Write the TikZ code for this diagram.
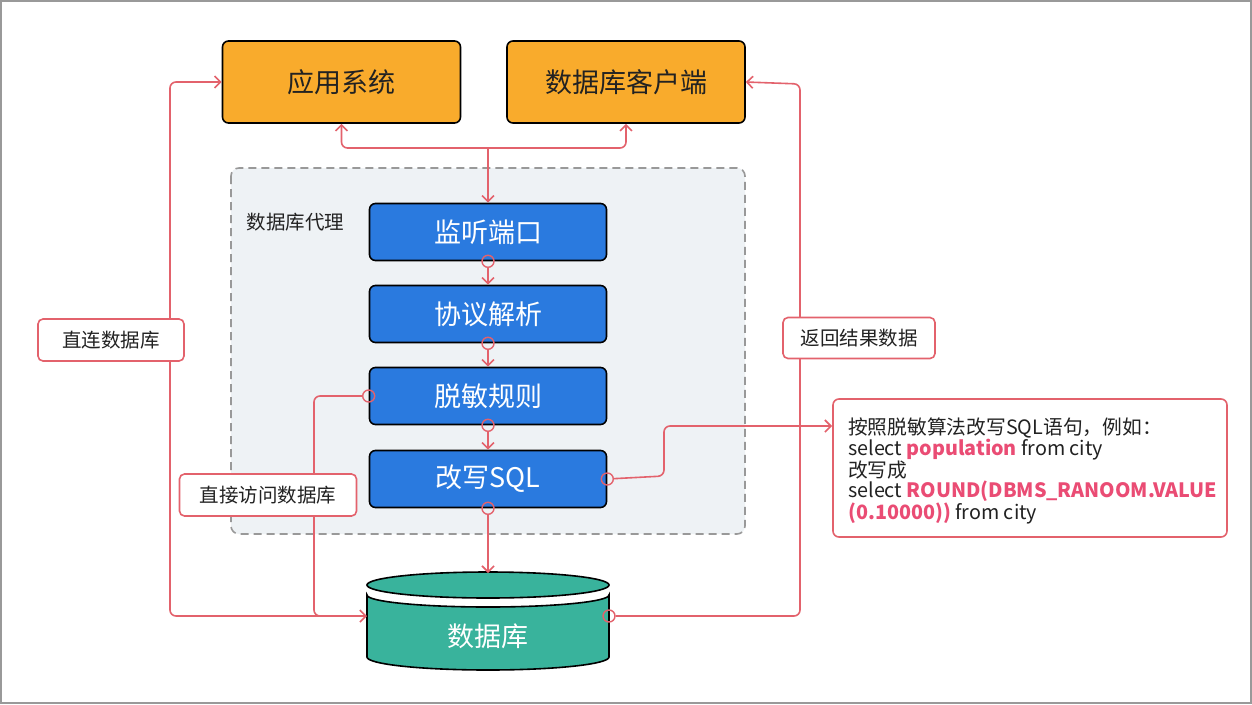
\documentclass[tikz,border=0pt]{standalone}
\usepackage{fontspec}
\setmainfont{Noto Sans CJK SC}
\usetikzlibrary{arrows.meta,shapes.geometric}
\definecolor{orangebox}{HTML}{F9AB2C}
\definecolor{bluebox}{HTML}{2A7ADF}
\definecolor{tealbox}{HTML}{39B39C}
\definecolor{redline}{HTML}{E3626C}
\definecolor{pinktext}{HTML}{EA4C74}
\definecolor{proxyfill}{HTML}{EEF2F5}
\definecolor{darktext}{HTML}{222222}
\tikzset{
  topbox/.style={draw=black, line width=1.6pt, fill=orangebox, rounded corners=6pt,
    minimum width=238pt, minimum height=82pt, inner sep=0pt,
    font=\fontsize{27}{30}\selectfont, text=darktext},
  stepbox/.style={draw=black, line width=1.6pt, fill=bluebox, rounded corners=6pt,
    minimum width=237pt, minimum height=57pt, inner sep=0pt,
    font=\fontsize{27}{30}\selectfont, text=white},
  lblbox/.style={draw=redline, line width=1.6pt, fill=white, rounded corners=5pt,
    inner sep=0pt, font=\fontsize{19.5}{22}\selectfont, text=darktext},
  conn/.style={draw=redline, line width=1.6pt, rounded corners=6pt},
  tip/.style={-{Straight Barb[length=6pt,width=12pt,line width=1.6pt]}},
  dtip/.style={{Straight Barb[length=6pt,width=12pt,line width=1.6pt]}-{Straight Barb[length=6pt,width=12pt,line width=1.6pt]}},
  dotc/.style={circle, draw=redline, line width=1.4pt, minimum size=12pt, inner sep=0pt}
}
\begin{document}
\begin{tikzpicture}[x=1pt,y=-1pt]
\useasboundingbox (0,0) rectangle (1252,704);
\fill[white] (0,0) rectangle (1252,704);
\draw[draw=black!40, line width=2pt] (1,1) rectangle (1251,703);

% proxy container
\draw[draw=black!40, fill=proxyfill, line width=1.6pt, dash pattern=on 8pt off 5pt, rounded corners=8pt]
  (231,168) rectangle (745,534);
\node[anchor=west, font=\fontsize{19.5}{22}\selectfont, text=darktext] (proxylbl) at (243,222) {数据库代理};

% top boxes
\node[topbox] (app) at (341.5,82) {应用系统};
\node[topbox] (cli) at (626,82) {数据库客户端};

% steps
\node[stepbox] (listen) at (488,232) {监听端口};
\node[stepbox] (parse) at (488,314) {协议解析};
\node[stepbox] (rule) at (488,396) {脱敏规则};
\node[stepbox] (rewrite) at (488,479) {改写SQL};

% database cylinder
\path[fill=tealbox, draw=black, line width=1.6pt]
  (367,595) -- (367,657) arc[start angle=180, end angle=360, x radius=121pt, y radius=13pt]
  -- (609,595) arc[start angle=0, end angle=-180, x radius=121pt, y radius=12pt] -- cycle;
\draw[fill=tealbox, draw=black, line width=1.6pt] (488,585) ellipse [x radius=121pt, y radius=13pt];
\node[font=\fontsize{27}{30}\selectfont, text=white] (db) at (488,636) {数据库};
\coordinate (dbtop) at (488,573);
\coordinate (dbwest) at (367,616);
\coordinate (dbeast) at (609,616);

% note
\node[draw=redline, line width=1.6pt, fill=white, rounded corners=6pt,
  minimum width=394pt, minimum height=138pt, inner sep=0pt] (note) at (1030,468) {};
\node[anchor=north west, align=left, inner sep=0pt, text=darktext,
  font=\fontsize{19.75}{20.2}\selectfont] (notetext) at (848,418)
  {按照脱敏算法改写SQL语句，例如：\\
   select {\bfseries\color{pinktext}population} from city\\
   改写成\\
   select {\bfseries\color{pinktext}ROUND(DBMS\_RANOOM.VALUE}\\
   {\bfseries\color{pinktext}(0.10000))} from city};
\coordinate (notein) at (832,426);

% top fan-out
\coordinate (jn) at (488,148);
\draw[conn,tip] (jn) -| (app.south);
\draw[conn,tip] (jn) -| (cli.south);
\draw[conn,tip] (jn) -- (listen.north);

% chain
\node[dotc] (d1) at (listen.south) {};
\node[dotc] (d2) at (parse.south) {};
\node[dotc] (d3) at (rule.south) {};
\node[dotc] (d4) at (rewrite.south) {};
\node[dotc] (d5) at (rewrite.east) {};
\node[dotc] (d6) at (rule.west) {};
\node[dotc] (d7) at (dbeast) {};
\draw[conn,tip] (d1) -- (parse.north);
\draw[conn,tip] (d2) -- (rule.north);
\draw[conn,tip] (d3) -- (rewrite.north);
\draw[conn,tip] (d4) -- (dbtop);

% rewrite -> note
\draw[conn,tip] (d5) -- (664,476) -- (664,426) -- (notein);

% direct connection left
\draw[conn,dtip] (app.west) -| (170,616) -- (dbwest);
\draw[conn] (d6) -- (314,396) -- (314,616) -- (340,616);

% return right
\draw[conn,tip] (d7) -- (800,616) -- (800,84) -- (cli.east);

% labels
\node[lblbox, minimum width=146pt, minimum height=42pt] (l1) at (111,340) {直连数据库};
\node[lblbox, minimum width=177pt, minimum height=42pt] (l2) at (268,495) {直接访问数据库};
\node[lblbox, minimum width=152pt, minimum height=41pt] (l3) at (859,338) {返回结果数据};
\end{tikzpicture}
\end{document}
